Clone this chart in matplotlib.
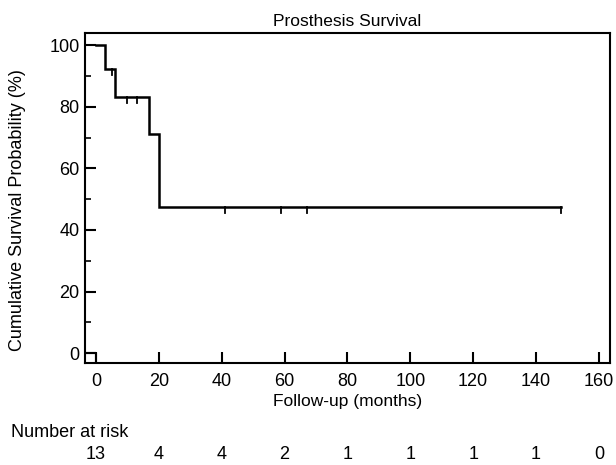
import numpy as np
import matplotlib.pyplot as plt
from matplotlib.transforms import blended_transform_factory

plt.rcParams['font.family'] = ['Liberation Sans', 'DejaVu Sans']

# Kaplan-Meier step data (months, survival %)
step_t = [0, 3, 6, 17, 20, 148]
step_s = [100, 92.3, 83.1, 71.2, 47.5, 47.5]

# censored observations
cens_t = [5, 10, 13, 41, 59, 67, 148]
cens_s = [92.3, 83.1, 83.1, 47.5, 47.5, 47.5, 47.5]

# small mark at the origin
orig_x = [-4, 0, 0]
orig_y = [0, 0, -4]

risk_t = [0, 20, 40, 60, 80, 100, 120, 140, 160]
risk_n = [13, 4, 4, 2, 1, 1, 1, 1, 0]

fig = plt.figure(figsize=(6.16, 4.65), dpi=100)
ax = fig.add_axes([0.138, 0.219, 0.852, 0.710])

ax.step(step_t, step_s, where='post', color='black', lw=1.8, solid_joinstyle='miter')
for t, s in zip(cens_t, cens_s):
    ax.plot([t, t], [s, s - 2], color='black', lw=1.3)
ax.plot(orig_x, orig_y, color='black', lw=1.5)

ax.set_xlim(-3.5, 163.5)
ax.set_ylim(-3.2, 103.9)
ax.set_xticks(np.arange(0, 161, 20))
ax.set_yticks(np.arange(0, 101, 20))
ax.set_yticks(np.arange(10, 100, 20), minor=True)
ax.tick_params(axis='both', direction='in', length=8, width=1.5, labelsize=13)
ax.tick_params(axis='x', pad=7)
ax.tick_params(axis='y', pad=4)
ax.tick_params(axis='y', which='minor', direction='in', length=4, width=1.2)
ax.tick_params(top=False, right=False)
for sp in ax.spines.values():
    sp.set_linewidth(1.5)

ax.set_title("Prosthesis Survival", fontsize=12.5, pad=5)
ax.set_xlabel("Follow-up (months)", fontsize=12.5, labelpad=3)
ax.set_ylabel("Cumulative Survival Probability (%)", fontsize=13)
ax.yaxis.set_label_coords(-0.112, 0.464)

trans = blended_transform_factory(ax.transData, fig.transFigure)
fig.text(0.018, 1 - 432 / 465, "Number at risk", fontsize=13, va='center', ha='left')
for t, n in zip(risk_t, risk_n):
    ax.text(t, 1 - 454 / 465, str(n), transform=trans, fontsize=13,
            ha='center', va='center', clip_on=False)

fig.savefig("out.png", dpi=100)
